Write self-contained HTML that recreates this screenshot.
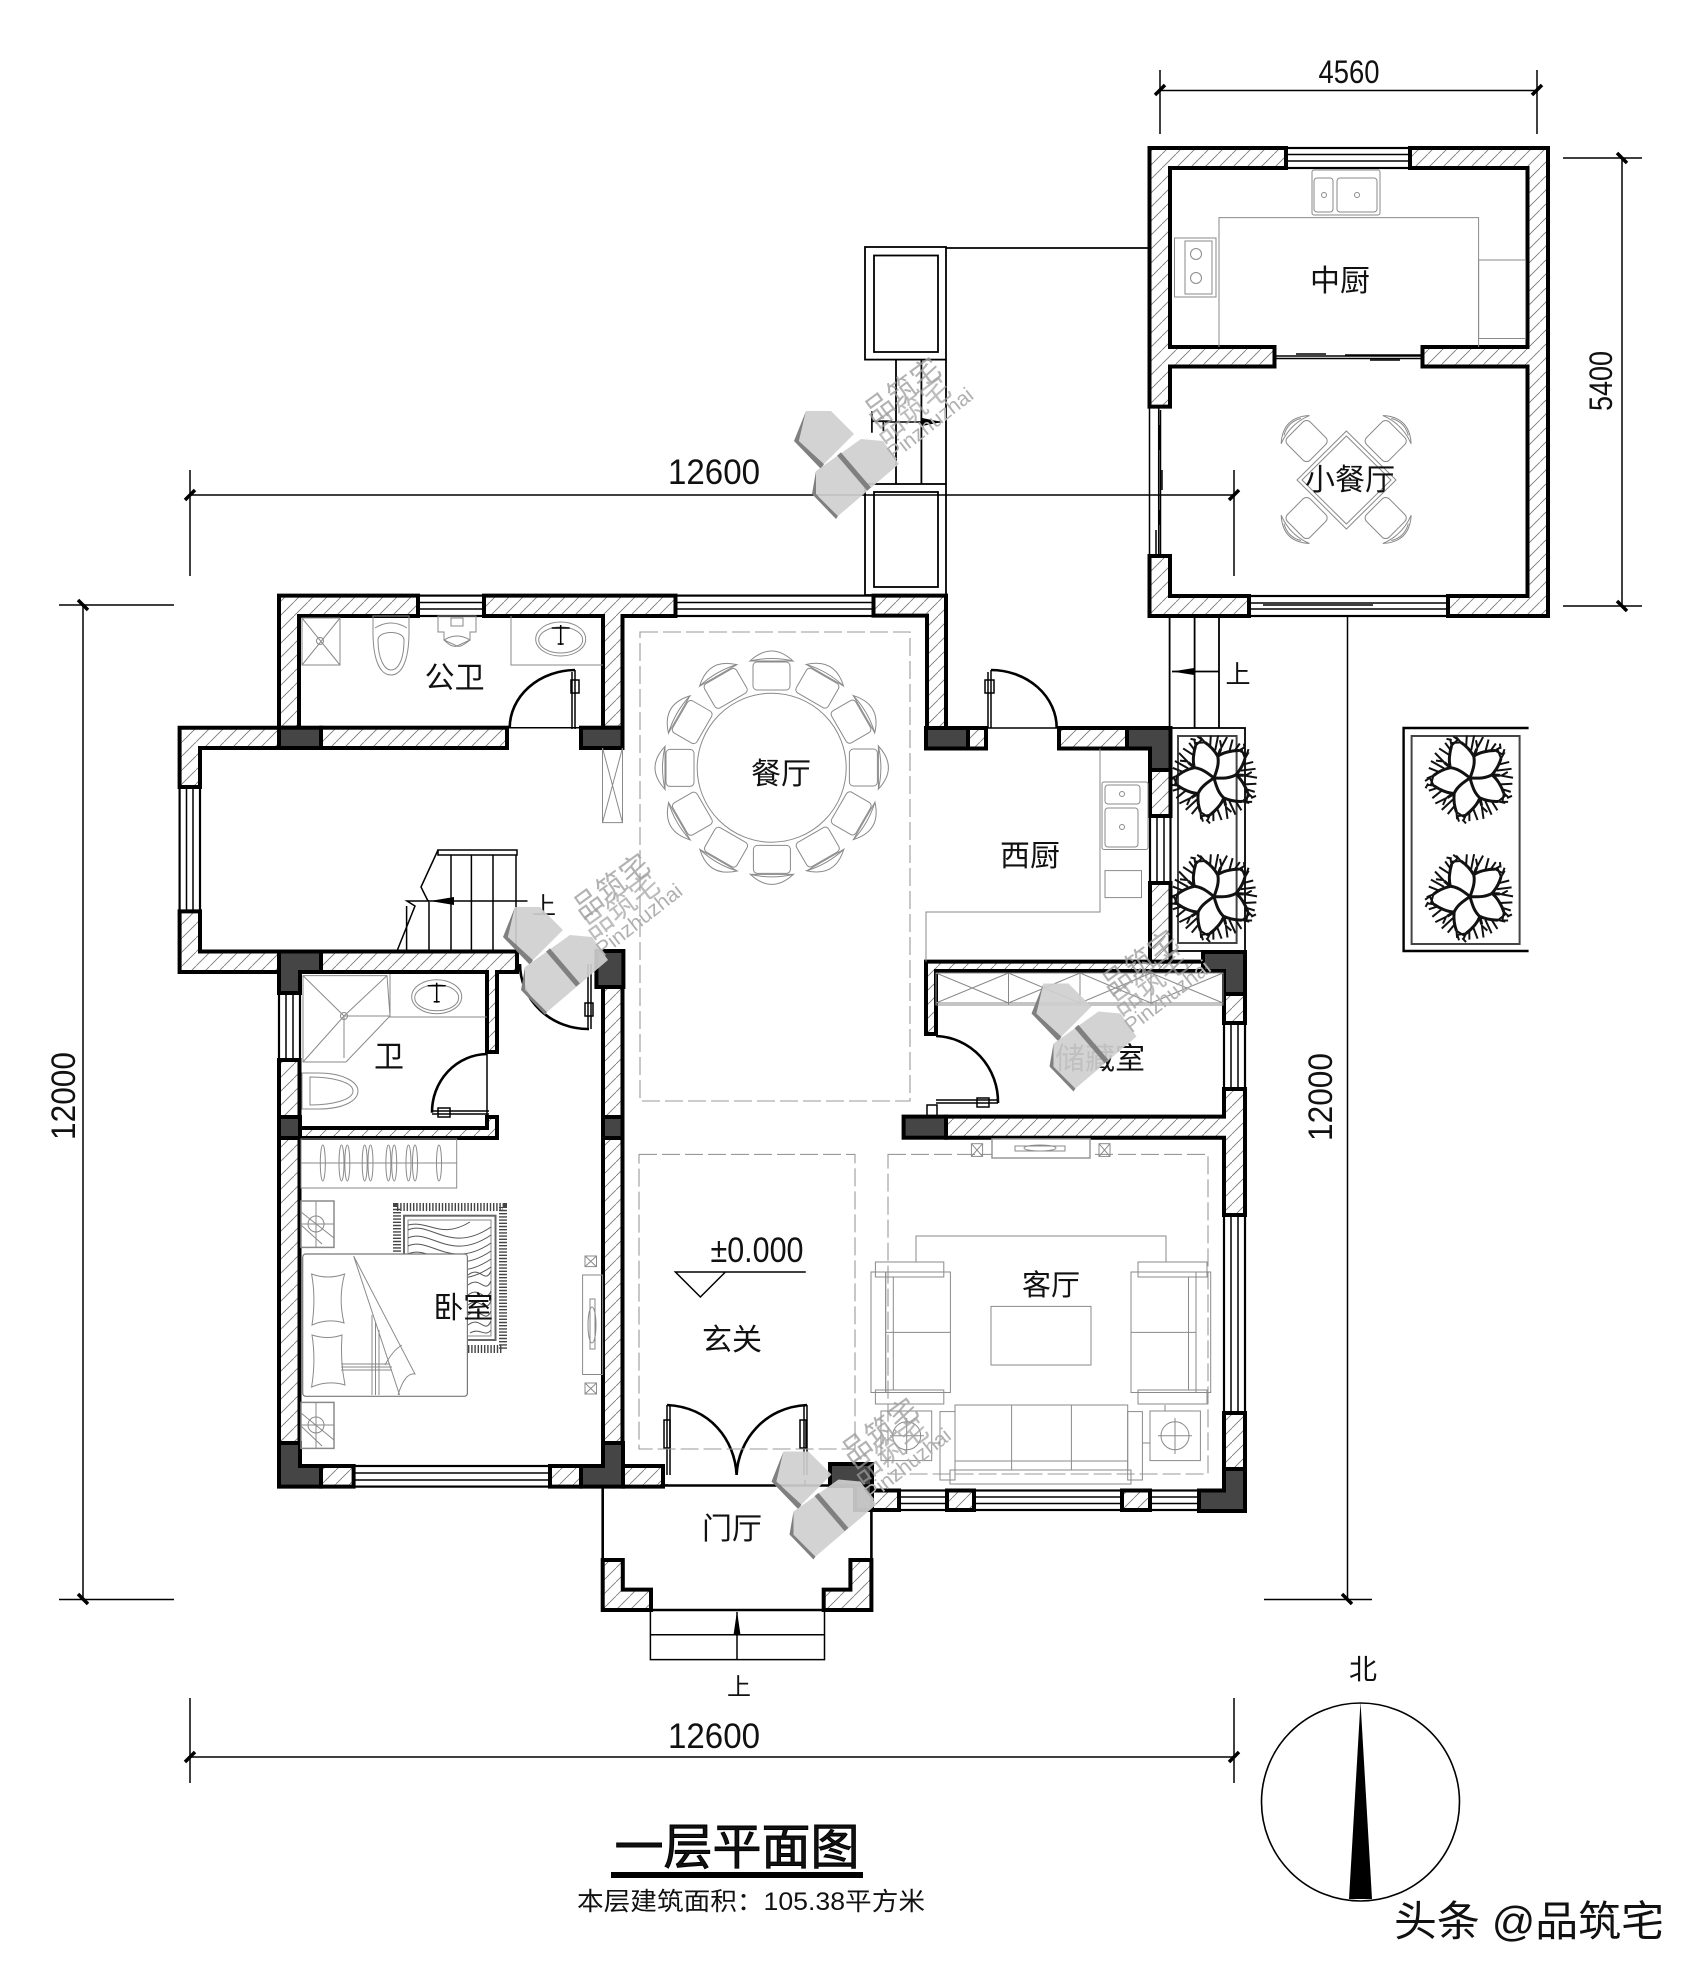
<!DOCTYPE html>
<html><head><meta charset="utf-8"><style>
html,body{margin:0;padding:0;background:#fff}
svg{display:block}
text{font-family:"Liberation Sans","Noto Sans CJK SC",sans-serif;fill:#111}
.w{fill:url(#h);stroke:#000;stroke-width:4;stroke-linejoin:miter}
.p{fill:#454545;stroke:#000;stroke-width:4}
.win{fill:#fff;stroke:#000;stroke-width:2.2}
.g{fill:none;stroke:#8a8a8a;stroke-width:1}
.gd{fill:none;stroke:#999;stroke-width:1.1;stroke-dasharray:18 5}
.k{fill:none;stroke:#000;stroke-width:1.5}
.d{fill:none;stroke:#000;stroke-width:2.6}
.t{stroke:#000;stroke-width:3.5}
.c{font-size:30px;text-anchor:middle}
.n{font-size:34px;text-anchor:middle}
</style></head><body>
<svg width="1703" height="1980" viewBox="0 0 1703 1980" xmlns="http://www.w3.org/2000/svg">
<defs>
<pattern id="h" width="14" height="14" patternUnits="userSpaceOnUse"><rect width="14" height="14" fill="#fff"/><path d="M-1 15L15 -1" stroke="#777" stroke-width=".8"/></pattern>
<g id="ch"><rect x="753" y="662" width="37" height="28" rx="4" class="g"/><path d="M750 661Q771.7 641 793 661Q771.7 656 750 661Z" class="g"/><path d="M750 661L793 661" class="g"/></g>
<g id="sc"><rect x="-16" y="-16" width="32" height="32" rx="5" class="g"/><path d="M-20 -16Q0 -34 20 -16Q0 -24 -20 -16Z" class="g"/><path d="M-12 -20Q0 -27 12 -20" class="g"/></g>
<g id="br" fill="none" stroke="#111" stroke-width="2"><path d="M0 0C1 -10 1 -16 -2 -22L-1 -30M-2 -22C-6 -26 -12 -30 -18 -32M-2 -22C2 -27 10 -31 17 -33" stroke-width="3"/><path d="M-18 -32L-24 -36M-18 -32L-27 -29M-12 -30L-14 -40M-6 -27L-7 -42M-1 -30L2 -43M-1 -32L-4 -38M8 -30L8 -42M17 -33L22 -38M17 -33L26 -31M13 -32L16 -40M-22 -34L-27 -36M22 -36L20 -41"/></g>
<g id="tree0"><use href="#br"/><use href="#br" transform="rotate(72)"/><use href="#br" transform="rotate(144)"/><use href="#br" transform="rotate(216)"/><use href="#br" transform="rotate(288)"/></g>
<g id="tree"><use href="#tree0" transform="rotate(15)"/></g>
<g id="wm">
<polygon points="25,47 13,77 40,105 43,100 18,77" fill="#808080"/>
<polygon points="25,47 50,47 73,70 43,100 18,77" fill="#cfcfcf" opacity=".92"/>
<polygon points="35,107 31,130 55,155 57,152 35,130" fill="#808080"/>
<polygon points="35,107 80,75 102,77 118,100 57,152 35,130" fill="#cfcfcf" opacity=".92"/>
<path d="M58 90L88 125" stroke="#808080" stroke-width="5"/>
<text transform="translate(92,60) rotate(-36)" style="font-size:29px;fill:#a0a0a0" opacity=".8">品筑宅</text>
<text transform="translate(102,80) rotate(-36)" style="font-size:29px;fill:#a0a0a0" opacity=".7">品筑宅</text>
<text transform="translate(113,97) rotate(-38)" style="font-size:21px;fill:#b0b0b0">Pinzhuzhai</text>
</g>
<g id="sink"><path d="M-25 0a25 17 0 1 0 50 0a25 17 0 1 0 -50 0M-22 1a22 13 0 1 0 44 0a22 13 0 1 0 -44 0" class="g"/><path d="M-9 -11H9M0 -14V6M-3 5h6" class="k" stroke-width="1" stroke="#444"/></g>
</defs>
<rect width="1703" height="1980" fill="#fff"/>

<!-- dimensions -->
<g class="k" stroke-width="1.3">
<path d="M1160 70V134M1537 70V134M1160 90.5H1537"/>
<path d="M1563 158H1642M1563 606H1642M1622 158V606"/>
<path d="M190 470V576M1234 470V576M190 495H1234"/>
<path d="M59 605H174M59 1599.5H174M83 605V1599.5"/>
<path d="M1264 1599.5H1372M1347.5 600V1599.5"/>
<path d="M190 1698V1783M1234 1698V1783M190 1757H1234"/>
</g>
<g class="t">
<path d="M1155 95L1165 85M1532 95L1542 85M1617 153L1627 163M1617 601L1627 611M185 500L195 490M1229 500L1239 490M78 600L88 610M78 1594L88 1604M1342 1594L1352 1604M1342 600L1352 610M185 1762L195 1752M1229 1762L1239 1752"/>
</g>
<text x="1349" y="83" class="n" style="font-size:32px" textLength="61" lengthAdjust="spacingAndGlyphs">4560</text>
<text transform="translate(1612,381) rotate(-90)" class="n" style="font-size:32px" textLength="60" lengthAdjust="spacingAndGlyphs">5400</text>
<text x="714" y="484" class="n" style="font-size:35px" textLength="92" lengthAdjust="spacingAndGlyphs">12600</text>
<text x="714" y="1748" class="n" style="font-size:35px" textLength="92" lengthAdjust="spacingAndGlyphs">12600</text>
<text transform="translate(75,1096) rotate(-90)" class="n" textLength="88" lengthAdjust="spacingAndGlyphs">12000</text>
<text transform="translate(1332,1097) rotate(-90)" class="n" textLength="88" lengthAdjust="spacingAndGlyphs">12000</text>

<!-- planters and stair between -->
<g fill="none" stroke="#000" stroke-width="1.8">
<rect x="865" y="247" width="81" height="112.6"/><rect x="874" y="255.5" width="64" height="96.5"/>
<path d="M946 248H1149"/>
<path d="M896 359.6V484M921.4 359.6V484M946 359.6V484"/>
<rect x="865" y="484" width="81" height="111"/><rect x="874" y="492" width="64" height="95"/>
<path d="M1169.6 616V728M1194.6 616V728M1219 616V728"/>
<path d="M1219 671.5H1172"/>
<rect x="1170.5" y="728" width="74.5" height="223"/><rect x="1178" y="736" width="58.6" height="207" stroke="#444" stroke-width="2"/>
<path d="M1528.6 728H1403.6V951H1528.6" stroke-width="2.4"/><rect x="1411.6" y="736" width="108" height="208" stroke="#444" stroke-width="2"/>
</g>
<polygon points="1172,671.5 1194,668 1194,675" fill="#000"/>
<path d="M885 422H941" class="k"/><polygon points="942,422 922,418 922,426" fill="#000"/>
<text transform="translate(872,422) rotate(90)" style="font-size:24px" text-anchor="middle">上</text>
<text x="1238" y="683" style="font-size:25px" text-anchor="middle">上</text>

<use href="#tree" transform="translate(1214,778)"/><use href="#tree" transform="translate(1214,896.6)"/>
<use href="#tree" transform="translate(1470,778)"/><use href="#tree" transform="translate(1470,896.6)"/>

<!-- small building -->
<rect x="1286" y="148" width="124" height="20" class="win"/><path d="M1286 154.5H1410M1286 161H1410" class="k" stroke-width="2"/>
<rect x="1249" y="596" width="199" height="20" class="win"/><path d="M1249 603H1448M1249 609H1448M1263 605H1373" class="k" stroke-width="1.6"/>
<path d="M1149.5 406V556M1158.7 406V556M1160.5 410V555" class="k" stroke-width="2"/>
<path d="M1160 425V450M1162 470V490M1160 510V525M1156 530V555" class="k" stroke-width="3"/>
<path d="M1274.5 356H1422.5M1274.5 358.5H1422.5" class="k" stroke-width="2"/>
<path d="M1296 354H1326M1370 360H1400M1345 355H1422" class="k" stroke-width="2.6"/>
<polygon class="w" points="1149.5,148 1286,148 1286,168 1170,168 1170,347 1274.5,347 1274.5,366.5 1170,366.5 1170,406.6 1149.5,406.6"/>
<polygon class="w" points="1410,148 1548,148 1548,616 1448,616 1448,596 1527.5,596 1527.5,366.5 1422.5,366.5 1422.5,347 1527.5,347 1527.5,168 1410,168"/>
<polygon class="w" points="1149.5,556 1170,556 1170,596 1249,596 1249,616 1149.5,616"/>
<path d="M1219 347V217.6H1478.6V347" class="g"/>
<rect x="1312" y="170" width="68" height="45" rx="2" class="g"/><rect x="1314" y="178" width="19" height="34" rx="3" class="g"/><rect x="1337" y="178" width="40" height="34" rx="3" class="g"/><circle cx="1324" cy="195" r="2.5" class="g"/><circle cx="1357" cy="195" r="2.5" class="g"/>
<rect x="1174.5" y="238" width="41.5" height="59" class="g"/><rect x="1185" y="241" width="27" height="53" class="g"/><circle cx="1196" cy="254" r="5.5" class="g"/><circle cx="1196" cy="278" r="5.5" class="g"/>
<rect x="1478.6" y="260" width="47" height="78.5" class="g"/>
<text x="1340" y="291" class="c">中厨</text>
<polygon points="1346.4,431 1396,480 1346.4,529 1297,480" class="g"/><polygon points="1346.4,436 1391,480 1346.4,524 1302,480" class="g"/>
<use href="#sc" transform="translate(1306.6,441) rotate(-45)"/><use href="#sc" transform="translate(1385.7,441) rotate(45)"/>
<use href="#sc" transform="translate(1385.7,518) rotate(135)"/><use href="#sc" transform="translate(1306.6,518) rotate(-135)"/>
<text x="1350" y="490" class="c">小餐厅</text>

<!-- main windows -->
<g class="win"><rect x="418" y="595.6" width="66" height="20.4"/><rect x="675.5" y="595.6" width="198" height="20.4"/><rect x="179.6" y="787" width="20.4" height="124.4"/><rect x="279" y="993" width="21" height="67"/><rect x="353.6" y="1466" width="196.4" height="20.6"/><rect x="899" y="1490.5" width="48" height="19.5"/><rect x="974" y="1490.5" width="148" height="19.5"/><rect x="1150" y="1490.5" width="49" height="19.5"/><rect x="1224" y="1215" width="21" height="198"/><rect x="1224" y="1023" width="21" height="66"/><rect x="1150" y="816" width="20.5" height="67"/></g>
<path d="M418 602.5H484M418 609H484M675.5 602.5H873.5M675.5 609H873.5M186.5 787V911M193 787V911M286 993V1060M293 993V1060M353.6 1473H550M353.6 1480H550M899 1497H947M899 1503.5H947M974 1497H1122M974 1503.5H1122M1150 1497H1199M1150 1503.5H1199M1231 1215V1413M1238 1215V1413M1231 1023V1089M1238 1023V1089M1157 816V883M1164 816V883" class="k" stroke-width="2"/>

<!-- main walls -->
<polygon class="w" points="279,595.6 418,595.6 418,616 299,616 299,727.7 279,727.7"/>
<polygon class="w" points="484,595.6 675.5,595.6 675.5,616 622.5,616 622.5,727.7 603,727.7 603,616 484,616"/>
<polygon class="w" points="873.5,595.6 946,595.6 946,728 927,728 927,615.6 873.5,615.6"/>
<polygon class="w" points="179.6,727.7 279,727.7 279,748 200,748 200,787 179.6,787"/>
<rect class="w" x="321" y="727.7" width="186" height="20.3"/>
<rect class="p" x="279" y="727.7" width="42" height="20.3"/>
<rect class="p" x="581" y="727.7" width="41.5" height="20.3"/>
<polygon class="w" points="179.6,911.4 200,911.4 200,951.5 279,951.5 279,972 179.6,972"/>
<polygon class="w" points="321,951.5 517,951.5 517,972 497,972 497,1052 487,1052 487,972 321,972"/>
<polygon class="p" points="279,951.5 321,951.5 321,972 300,972 300,993 279,993"/>
<rect class="w" x="279" y="1060" width="20.5" height="57"/>
<rect class="p" x="279" y="1117" width="21" height="21"/>
<polygon class="w" points="487,1117 497,1117 497,1138 300,1138 300,1128 487,1128"/>
<rect class="w" x="279" y="1138" width="20.5" height="305"/>
<polygon class="p" points="279,1443 300,1443 300,1466 321,1466 321,1486.6 279,1486.6"/>
<rect class="w" x="321" y="1466" width="32.6" height="20.6"/>
<rect class="w" x="550" y="1466" width="31" height="20.6"/>
<polygon class="p" points="603,1443 623,1443 623,1486.6 581,1486.6 581,1466 603,1466"/>
<rect class="w" x="623" y="1466" width="40" height="20.6"/>
<rect class="w" x="603" y="1138" width="19.5" height="305"/>
<rect class="p" x="603" y="1117" width="19.5" height="21"/>
<rect class="w" x="603" y="987" width="19.5" height="130"/>
<rect class="p" x="596.4" y="951" width="27" height="36"/>
<polygon class="p" points="830,1464 872,1464 872,1510 855,1510 855,1486 830,1486"/>
<rect class="w" x="872" y="1490.5" width="27" height="19.5"/>
<rect class="w" x="947" y="1490.5" width="27" height="19.5"/>
<rect class="w" x="1122" y="1490.5" width="28" height="19.5"/>
<polygon class="p" points="1224,1469 1245,1469 1245,1511 1199,1511 1199,1490.5 1224,1490.5"/>
<rect class="w" x="1224" y="1413" width="21" height="56"/>
<polygon class="w" points="1224,1089 1245,1089 1245,1215 1224,1215 1224,1137.7 946,1137.7 946,1116.6 1224,1116.6"/>
<rect class="p" x="903.6" y="1116.6" width="42.4" height="21.1"/>
<rect class="w" x="1224" y="994" width="21" height="29"/>
<polygon class="w" points="926,961.6 1203,961.6 1203,971 936,971 936,1034 926,1034"/>
<polygon class="p" points="1203,952 1245,952 1245,994 1224,994 1224,971 1203,971"/>
<rect class="p" x="926" y="728" width="42" height="20.5"/>
<rect class="w" x="968" y="728" width="18" height="20.5"/>
<rect class="w" x="1059" y="728" width="68" height="20.5"/>
<polygon class="p" points="1127,728 1170.5,728 1170.5,770 1150,770 1150,748.5 1127,748.5"/>
<rect class="w" x="1150" y="770" width="20.5" height="46"/>
<rect class="w" x="1150" y="883" width="20.5" height="78.6"/>

<!-- porch -->
<path d="M602.7 1486V1560M871.4 1486V1560M663 1485.5H873" class="d" stroke-width="2"/>
<polygon class="w" points="602.7,1560 622.8,1560 622.8,1589.6 651,1589.6 651,1610 602.7,1610"/>
<polygon class="w" points="871.4,1560 850.4,1560 850.4,1589.6 823.7,1589.6 823.7,1610 871.4,1610"/>
<path d="M651 1610H823.7" class="d" stroke-width="3"/>
<path d="M650.4 1610V1659.6H824.5V1610M650.4 1634.7H824.5M737 1612V1659.6" class="k" stroke-width="1.8"/>
<polygon points="737,1611 733.5,1635 740.5,1635" fill="#000"/>
<text x="739" y="1695" class="c" style="font-size:24px">上</text>

<!-- doors -->
<path d="M575 670V729M572 672V729" class="k"/><path d="M575 670A66 58 0 0 0 509.7 727.7" class="d"/><rect x="571" y="680" width="8" height="13" class="k"/><path d="M507 727.7H581" class="k"/>
<path d="M991 670V728M988 672V728" class="k"/><path d="M991 670A66 58 0 0 1 1056.7 728" class="d"/><rect x="985" y="680" width="9" height="13" class="k"/><path d="M986 728H1059" class="k"/>
<path d="M588 964V1029M591 964V1029" class="k"/><path d="M520 964A68 65 0 0 0 589 1029" class="d"/><rect x="585" y="1003" width="8" height="13" class="k"/>
<path d="M432 1111H489M432 1114H489" class="k"/><path d="M487 1054A56 58 0 0 0 432 1112.7" class="d"/><rect x="438" y="1108" width="12" height="9" class="k"/><path d="M487 1052V1117" class="k" stroke-width="1"/>
<path d="M936 1100H998M936 1103H998" class="k"/><path d="M936 1036A64 66 0 0 1 998 1103" class="d"/><rect x="977" y="1098" width="12" height="9" class="k"/><rect x="927" y="1105" width="10" height="12" class="k" stroke-width="3"/>
<path d="M667 1405V1475M670 1405V1475M807 1405V1475M804 1405V1475" class="k"/>
<path d="M667 1405C710 1407 735 1440 736.6 1475C738 1440 765 1407 807 1405" class="d"/>
<rect x="664" y="1420" width="6" height="28" class="k"/><rect x="800" y="1420" width="6" height="28" class="k"/>
<path d="M664 1480V1486M660 1485H668M805 1480V1486" class="k"/>

<!-- dining -->
<rect x="640" y="632" width="270" height="469" class="gd"/>
<circle cx="771.7" cy="767.7" r="74.5" class="g"/>
<use href="#ch"/><use href="#ch" transform="rotate(30 771.7 767.7)"/><use href="#ch" transform="rotate(60 771.7 767.7)"/><use href="#ch" transform="rotate(90 771.7 767.7)"/><use href="#ch" transform="rotate(120 771.7 767.7)"/><use href="#ch" transform="rotate(150 771.7 767.7)"/><use href="#ch" transform="rotate(180 771.7 767.7)"/><use href="#ch" transform="rotate(210 771.7 767.7)"/><use href="#ch" transform="rotate(240 771.7 767.7)"/><use href="#ch" transform="rotate(270 771.7 767.7)"/><use href="#ch" transform="rotate(300 771.7 767.7)"/><use href="#ch" transform="rotate(330 771.7 767.7)"/>
<text x="781" y="784" class="c">餐厅</text>
<path d="M602.5 748V822.6H622.5V748M602.5 748L622.5 822.6M622.5 748L602.5 822.6" class="g"/>

<!-- public bath -->
<rect x="302" y="618" width="38" height="47" class="g"/><path d="M302 618L340 665M340 618L302 665" class="g"/><circle cx="320" cy="641" r="3.5" class="g"/>
<path d="M373 616H409V632C409 660 402 675 391 675C380 675 373 660 373 632Z" class="g"/><path d="M375 628Q391 618 407 628M378 640C378 660 385 670 391 670C398 670 404 660 404 640C404 630 378 630 378 640Z" class="g"/>
<path d="M440 616H476V632H470V640L457 646L444 640V632H438V616Z" class="g"/><path d="M444 640Q457 632 470 640Q460 648 457 646Q452 648 444 640" class="g"/><path d="M451 618H463V626H451Z" class="g"/>
<path d="M511 616V665H603" class="g"/><use href="#sink" transform="translate(560.7,639)"/>
<text x="454.6" y="688" class="c">公卫</text>

<!-- stairs -->
<path d="M438 850H517V855H438Z" class="k" stroke-width="1.6"/>
<path d="M451 855V951M471.4 855V951M493 855V951M516 855V951M429 900V951M406.6 906V951" class="k"/>
<path d="M438 850L421 887L428 901L407 901L415 906L397 951" class="k"/>
<path d="M527.5 901H430" class="k"/><polygon points="430,901 454,897 454,905" fill="#000"/>
<text x="544" y="914" class="c" style="font-size:24px">上</text>

<!-- bath 2 -->
<polygon points="303,975.6 387,975.6 390,1016 346,1062 303,1062" class="g"/><path d="M303 975.6L344 1016L390 1016M387 975.6L344 1016M344 1016L303 1062M344 1016V1058" class="g"/><circle cx="344" cy="1016" r="3.5" class="g"/>
<path d="M390 974V1017H487" class="g"/><use href="#sink" transform="translate(436.7,996.7)"/>
<path d="M302 1073H318C345 1073 358 1083 358 1091C358 1100 345 1109 318 1109H302Z" class="g"/><path d="M310 1077C332 1077 353 1082 353 1091C353 1100 332 1105 310 1105Z" class="g"/>
<text x="389" y="1067" class="c">卫</text>

<!-- bedroom -->
<rect x="301" y="1139" width="155.7" height="49" class="g" stroke-width="1.5"/><path d="M301 1163H456.7" class="g"/>
<g class="g"><ellipse cx="322.8" cy="1163" rx="2.5" ry="18"/><ellipse cx="341.5" cy="1163" rx="2.5" ry="18"/><ellipse cx="347.3" cy="1163" rx="2.5" ry="18"/><ellipse cx="364.7" cy="1163" rx="2.5" ry="18"/><ellipse cx="370.5" cy="1163" rx="2.5" ry="18"/><ellipse cx="388.4" cy="1163" rx="2.5" ry="18"/><ellipse cx="394.2" cy="1163" rx="2.5" ry="18"/><ellipse cx="408.5" cy="1163" rx="2.5" ry="18"/><ellipse cx="415" cy="1163" rx="2.5" ry="18"/><ellipse cx="439" cy="1163" rx="2.5" ry="18"/></g>
<g class="g"><rect x="301" y="1201" width="33" height="46.4" stroke-width="1.5"/><circle cx="316" cy="1224" r="8"/><path d="M301 1212L334 1238M301 1225L322 1244M316 1201V1247M301 1224H334"/>
<rect x="301" y="1402.4" width="33" height="46" stroke-width="1.5"/><circle cx="316" cy="1425" r="8"/><path d="M301 1413L334 1440M301 1426L322 1446M316 1402V1448M301 1425H334"/></g>
<rect x="397" y="1207" width="106" height="142" fill="none" stroke="#444" stroke-width="8" stroke-dasharray="1.4 1.8"/>
<rect x="404" y="1215.7" width="91.5" height="124.3" fill="#fff" stroke="#666" stroke-width="2"/>
<rect x="408" y="1220" width="83" height="116" class="g"/>
<g fill="none" stroke="#555" stroke-width="1"><path d="M408 1230C430 1220 450 1255 491 1227M408 1238C430 1228 450 1263 491 1235M408 1246C430 1236 450 1271 491 1243M408 1254C430 1244 450 1279 491 1251M408 1262C430 1252 450 1287 491 1259M408 1270C430 1260 450 1295 491 1267M408 1225C430 1220 440 1240 470 1222M468 1275C480 1265 485 1285 491 1271M468 1285C480 1275 485 1295 491 1281M468 1295C480 1285 485 1305 491 1291M468 1305C480 1295 485 1315 491 1301M468 1315C480 1305 485 1325 491 1311M468 1325C480 1315 485 1335 491 1321M470 1333C480 1327 485 1338 491 1330"/></g>
<rect x="302.7" y="1254" width="164.7" height="142.3" rx="3" fill="#fff" stroke="#777" stroke-width="1.2"/>
<g class="g"><path d="M311.6 1274Q328 1280 344.6 1274Q338 1298 344 1323Q328 1318 312 1325Q316 1298 311.6 1274Z"/><path d="M312 1335Q328 1340 342 1335Q340 1360 345 1385Q328 1380 311.6 1387Q316 1360 312 1335Z"/><path d="M353.6 1256L415 1374Q405 1372 398 1395M353.6 1256L399.6 1395M372 1315V1395M375.5 1322V1395M379 1330V1395M341 1364H390M341 1367H392M341 1370H392M385 1365Q393 1350 402 1345"/></g>
<text x="463.4" y="1318" class="c">卧室</text>
<rect x="582.6" y="1275" width="20" height="99.5" class="g"/><rect x="590" y="1299" width="5" height="50" class="g"/><ellipse cx="592" cy="1325" rx="4" ry="18" class="g"/>
<rect x="585" y="1256" width="11.5" height="10.6" class="g"/><path d="M585 1256l11.5 10.6M596.5 1256l-11.5 10.6" class="g"/>
<rect x="585" y="1383" width="11.5" height="11" class="g"/><path d="M585 1383l11.5 11M596.5 1383l-11.5 11" class="g"/>

<!-- vestibule -->
<rect x="639" y="1154.4" width="216" height="294.6" class="gd"/>
<text x="757" y="1262" style="font-size:35px" text-anchor="middle" textLength="93" lengthAdjust="spacingAndGlyphs">±0.000</text>
<path d="M805.8 1272H675.4L700.4 1297L725.4 1272" class="k" stroke-width="1.8"/>
<text x="732" y="1350" class="c">玄关</text>
<text x="732" y="1539" class="c">门厅</text>

<!-- kitchen west -->
<path d="M1100 748.5V912H926V961.6" class="g"/>
<rect x="1102" y="782" width="46" height="67.5" rx="2" class="g"/><rect x="1105" y="785" width="35" height="19" rx="3" class="g"/><rect x="1105" y="808" width="33" height="39" rx="3" class="g"/><circle cx="1122" cy="794" r="2.5" class="g"/><circle cx="1122" cy="827" r="2.5" class="g"/>
<rect x="1105" y="870.6" width="36.5" height="27" class="g"/>
<text x="1030" y="866" class="c">西厨</text>

<!-- storage -->
<rect x="936" y="973" width="287" height="32" class="g"/><path d="M936 1003H1223M1008.5 973V1005M1080 973V1005M1151 973V1005M936 973L1008.5 1003M1008.5 973L936 1003M1008.5 973L1080 1003M1080 973L1008.5 1003M1080 973L1151 1003M1151 973L1080 1003M1151 973L1223 1003M1223 973L1151 1003" class="g" stroke="#bbb"/>
<text x="1100" y="1069" class="c">储藏室</text>

<!-- living -->
<rect x="888" y="1154.4" width="320" height="319.6" class="gd"/>
<rect x="992" y="1139" width="98" height="19" fill="#fff" stroke="#999" stroke-width="1.5"/><rect x="1015" y="1146" width="50" height="5" class="g"/><ellipse cx="1040" cy="1148" rx="16" ry="3" class="g"/>
<rect x="971.4" y="1143.7" width="11.2" height="12.7" class="g"/><path d="M971.4 1143.7l11.2 12.7M982.6 1143.7l-11.2 12.7" class="g"/>
<rect x="1099" y="1143.7" width="11" height="12.7" class="g"/><path d="M1099 1143.7l11 12.7M1110 1143.7l-11 12.7" class="g"/>
<path d="M916 1262V1236H1166V1262" class="g"/>
<g class="g">
<rect x="875.4" y="1262" width="68.4" height="15"/><rect x="871" y="1272" width="14.7" height="120.5"/><rect x="885.7" y="1272" width="64.7" height="120.5"/><path d="M885.7 1332.4H950.4M893.3 1277V1390"/><rect x="875.4" y="1390" width="68.4" height="14"/>
<rect x="1138" y="1262" width="69" height="15"/><rect x="1196" y="1272" width="14.7" height="120.5"/><rect x="1131" y="1272" width="65" height="120.5"/><path d="M1131 1332.4H1196M1188.5 1277V1390"/><rect x="1138" y="1390" width="69" height="14"/>
<rect x="991" y="1306.4" width="100" height="58.6"/>
<rect x="955" y="1405" width="172.7" height="65"/><path d="M1011.6 1405V1470M1071.4 1405V1470M955 1461H1127.7"/><rect x="950" y="1470" width="181" height="14"/>
<rect x="940" y="1411.6" width="15" height="68.4"/><rect x="1127.7" y="1411.6" width="14.7" height="68.4"/>
<rect x="1150" y="1411" width="50.4" height="49.6"/><ellipse cx="1175" cy="1435.7" rx="14" ry="14"/><path d="M1158 1435.7H1192M1175 1418V1454M1142.4 1443H1150M1165 1405V1411"/>
<rect x="881" y="1411" width="50.7" height="49.6"/><ellipse cx="906.7" cy="1435.7" rx="14" ry="14"/><path d="M890 1435.7H924M906.7 1418V1454M931.7 1443H940"/>
</g>
<text x="1051" y="1295" class="c" style="font-size:29px">客厅</text>

<!-- watermarks -->
<use href="#wm" transform="translate(490,860)"/>
<use href="#wm" transform="translate(781,364)"/>
<use href="#wm" transform="translate(1018.5,936.5)"/>
<use href="#wm" transform="translate(758.5,1404.5)"/>

<!-- title and north -->
<text x="737" y="1864" style="font-size:49px;stroke:#000;stroke-width:.9" text-anchor="middle">一层平面图</text>
<rect x="611" y="1872" width="252" height="6" fill="#000"/>
<text x="751" y="1910" style="font-size:25px" text-anchor="middle" textLength="348" lengthAdjust="spacingAndGlyphs">本层建筑面积：105.38平方米</text>
<circle cx="1360.5" cy="1802" r="99" fill="none" stroke="#000" stroke-width="1.6"/>
<polygon points="1360.5,1702 1349,1899 1372,1899" fill="#000"/>
<text x="1363" y="1679" class="c" style="font-size:28px">北</text>
<text x="1529" y="1936" style="font-size:42px" text-anchor="middle" textLength="270" lengthAdjust="spacingAndGlyphs">头条 @品筑宅</text>
</svg>
</body></html>
